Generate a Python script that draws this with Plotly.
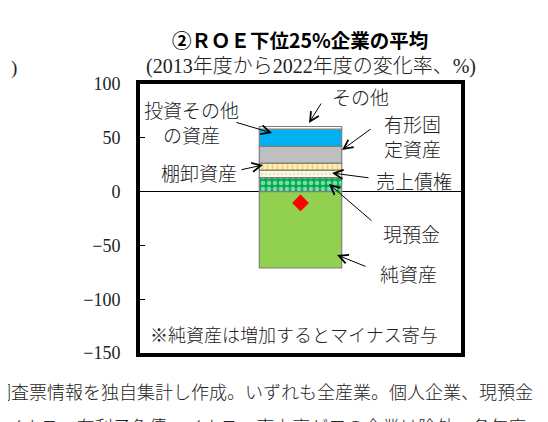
import plotly.graph_objects as go

# data (change rate 2013->2022, %)
group = ["ROE下位25%"]
segments = ["現預金", "売上債権", "棚卸資産", "有形固定資産", "投資その他の資産", "その他", "純資産"]
seg_values = [13.0, 7.0, 6.5, 15.5, 16.0, 2.5, -71.0]
seg_colors = ["#00B050", "#FDFBE6", "#FFEFB8", "#BFBFBF", "#00B0F0", "#FFFFFF", "#92D050"]
seg_patterns = [
    dict(shape=".", fgcolor="#FFFFFF", size=6, solidity=0.45, fillmode="overlay"),
    dict(shape=".", fgcolor="#C8CC8C", size=4, solidity=0.3, fillmode="overlay"),
    dict(shape="|", fgcolor="#EDB530", size=5, solidity=0.35, fillmode="overlay"),
    None, None, None, None,
]

title_text = "②ＲＯＥ下位25%企業の平均"
subtitle_text = "(2013年度から2022年度の変化率、%)"
note_text = "※純資産は増加するとマイナス寄与"
foot_lines = [
    "調査票情報を独自集計し作成。いずれも全産業。個人企業、現預金",
    "マイナス、有利子負債マイナス、売上高ゼロの企業は除外。各年度",
]

# plot area in page pixels (inside the thick frame); page has an 8px body margin
W, H = 548, 422
OFF = 8
L, R, T, B = 140, 461, 84, 353


def px_x(x):
    return (x - L) / (R - L)


def px_y(y):
    return (B - y) / (B - T)


JP = "Noto Sans CJK JP"
SERIF = "Liberation Serif, Noto Sans CJK JP"

fig = go.Figure()
for name, val, col, pat in zip(segments, seg_values, seg_colors, seg_patterns):
    marker = dict(color=col, line=dict(color="#7F7F7F", width=1.2))
    if pat:
        marker["pattern"] = pat
    fig.add_trace(go.Bar(x=group, y=[val], name=name, width=0.77, marker=marker,
                         hoverinfo="skip", showlegend=False))

# total change (red diamond)
fig.add_trace(go.Scatter(x=group, y=[sum(seg_values)], mode="markers",
                         marker=dict(symbol="diamond", size=13, color="#FF0000"),
                         hoverinfo="skip", showlegend=False))


def label(txt, cx, cy, size=19, family=JP, xanchor="center", weight=300, color="#222"):
    return dict(text=txt, x=px_x(cx), y=px_y(cy), xref="paper", yref="paper",
                showarrow=False, xanchor=xanchor, yanchor="middle",
                font=dict(family=family, size=size, color=color, weight=weight))


ann = []
# labels: text, centre x, centre y (px)
labels = [
    ("その他", 360, 96),
    ("投資その他<br>の資産", 191, 122),
    ("有形固<br>定資産", 412, 136),
    ("棚卸資産", 199, 172),
    ("売上債権", 414, 180),
    ("現預金", 411, 233),
    ("純資産", 408, 273),
]
for txt, cx, cy in labels:
    ann.append(label(txt, cx, cy))

# arrows: head (x, y), tail (x, y) in px
arrows = [
    ((309, 123), (322, 102)),
    ((272, 133), (235, 122)),
    ((342, 150), (372, 128)),
    ((263, 165), (240, 170)),
    ((332, 173), (370, 178)),
    ((329, 184), (373, 222)),
    ((337, 255), (367, 267)),
]
for (hx, hy), (tx, ty) in arrows:
    ann.append(dict(text="", x=px_x(hx), y=px_y(hy), xref="paper", yref="paper",
                    ax=tx - hx, ay=ty - hy, showarrow=True, arrowhead=5,
                    arrowsize=1.8, arrowwidth=1, arrowcolor="black", startstandoff=0))

ann.append(label(note_text, 294, 334, size=18))
ann.append(label(title_text, 300, 39, size=19.5, weight="bold", color="black"))
ann.append(label(subtitle_text, 311, 67, size=20, family=SERIF))
ann.append(label(")", 9, 68, family=SERIF, xanchor="left"))
for txt, lx, cy in zip(foot_lines, [-9, -15], [391, 426]):
    ann.append(label(txt, lx, cy, size=18, xanchor="left"))

fig.update_layout(
    width=W, height=H,
    margin=dict(l=L - OFF, r=W - R + OFF, t=T - OFF, b=H - B + OFF),
    barmode="relative",
    plot_bgcolor="white", paper_bgcolor="white",
    annotations=ann,
)
fig.update_xaxes(type="category", range=[-1.5, 1.5], showticklabels=False, ticks="",
                 showgrid=False, showline=True, mirror=True, linewidth=4, linecolor="black")
fig.update_yaxes(range=[-150, 100], dtick=50, ticks="inside", ticklen=5, tickcolor="black",
                 showgrid=False, zeroline=True, zerolinecolor="black", zerolinewidth=1,
                 showline=True, mirror=True, linewidth=4, linecolor="black",
                 tickfont=dict(family="Liberation Serif", size=18, color="#222"),
                 ticklabelstandoff=12)

fig.write_html("out.html")
